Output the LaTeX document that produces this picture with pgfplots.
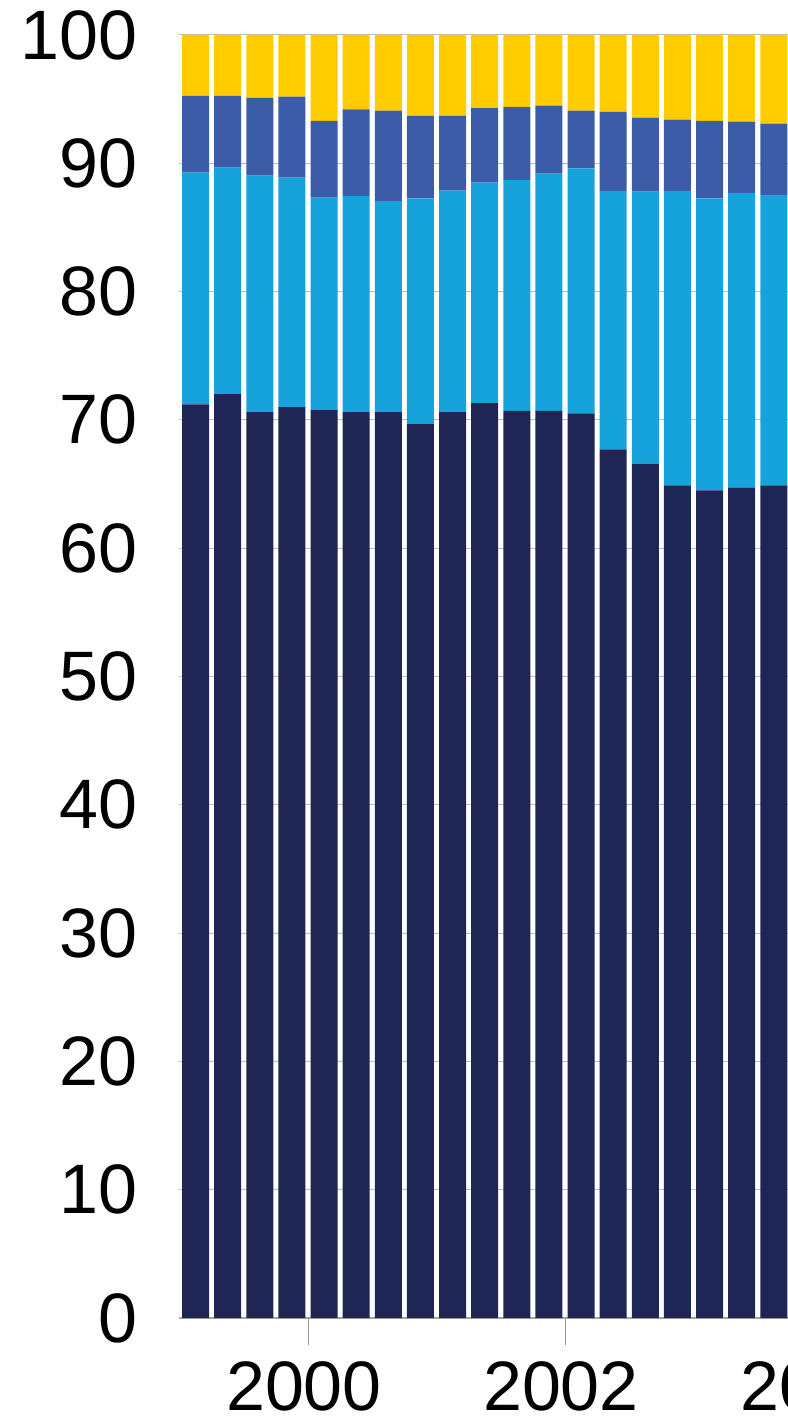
\documentclass[border=0pt]{standalone}
\usepackage{pgfplots}
\pgfplotsset{compat=1.18}
\usepackage{fontspec}
\setmainfont{Liberation Sans}
\definecolor{cnavy}{HTML}{1F2554}
\definecolor{clight}{HTML}{16A3DB}
\definecolor{cmid}{HTML}{3D5CA8}
\definecolor{cyel}{HTML}{FFCC00}
\begin{document}
\begin{tikzpicture}
\begin{axis}[
  scale only axis, width=353.375pt, height=641.5pt,
  xmin=1999, xmax=2004.5, ymin=0, ymax=100,
  ybar stacked, bar width=0.21,
  axis x line*=bottom, axis y line*=left,
  x axis line style={draw=gray!70, line width=1pt, -},
  y axis line style={draw=none},
  ytick={0,10,...,100}, xtick={2000,2002,2004},
  xticklabel style={/pgf/number format/1000 sep={}, yshift=-5pt, xshift=-2pt},
  yticklabel style={xshift=-4pt},
  /pgf/number format/assume math mode=true,
  ticklabel style={font=\fontsize{35}{42}\selectfont, text=black},
  ymajorgrids, grid style={gray!50, line width=0.5pt},
  tick align=outside, major tick length=13.5pt,
  xtick style={draw=gray!80, line width=0.5pt},
  ytick style={draw=none},
]
\addplot[fill=cnavy, draw=none] coordinates {
(1999.125,71.2) (1999.375,72.0) (1999.625,70.6) (1999.875,71.0)
(2000.125,70.8) (2000.375,70.6) (2000.625,70.6) (2000.875,69.7)
(2001.125,70.6) (2001.375,71.3) (2001.625,70.7) (2001.875,70.7)
(2002.125,70.5) (2002.375,67.7) (2002.625,66.6) (2002.875,64.9)
(2003.125,64.5) (2003.375,64.7) (2003.625,64.9)};
\addplot[fill=clight, draw=none] coordinates {
(1999.125,18.07) (1999.375,17.66) (1999.625,18.43) (1999.875,17.88)
(2000.125,16.52) (2000.375,16.85) (2000.625,16.46) (2000.875,17.57)
(2001.125,17.26) (2001.375,17.2) (2001.625,18.0) (2001.875,18.5)
(2002.125,19.1) (2002.375,20.14) (2002.625,21.19) (2002.875,22.94)
(2003.125,22.77) (2003.375,23.0) (2003.625,22.63)};
\addplot[fill=cmid, draw=none] coordinates {
(1999.125,5.98) (1999.375,5.59) (1999.625,6.07) (1999.875,6.32)
(2000.125,5.98) (2000.375,6.75) (2000.625,7.04) (2000.875,6.43)
(2001.125,5.84) (2001.375,5.8) (2001.625,5.7) (2001.875,5.3)
(2002.125,4.5) (2002.375,6.16) (2002.625,5.76) (2002.875,5.56)
(2003.125,6.03) (2003.375,5.54) (2003.625,5.57)};
\addplot[fill=cyel, draw=none] coordinates {
(1999.125,4.75) (1999.375,4.75) (1999.625,4.9) (1999.875,4.8)
(2000.125,6.7) (2000.375,5.8) (2000.625,5.9) (2000.875,6.3)
(2001.125,6.3) (2001.375,5.7) (2001.625,5.6) (2001.875,5.5)
(2002.125,5.9) (2002.375,6.0) (2002.625,6.45) (2002.875,6.6)
(2003.125,6.7) (2003.375,6.76) (2003.625,6.9)};
\coordinate (BL) at (axis cs:1999,0);
\coordinate (TR) at (axis cs:2003.735,100);
\end{axis}
\pgfresetboundingbox
\path[use as bounding box] ([xshift=-89.75pt,yshift=-54.5pt]BL) rectangle ([yshift=17.5pt]TR);
\end{tikzpicture}
\end{document}
